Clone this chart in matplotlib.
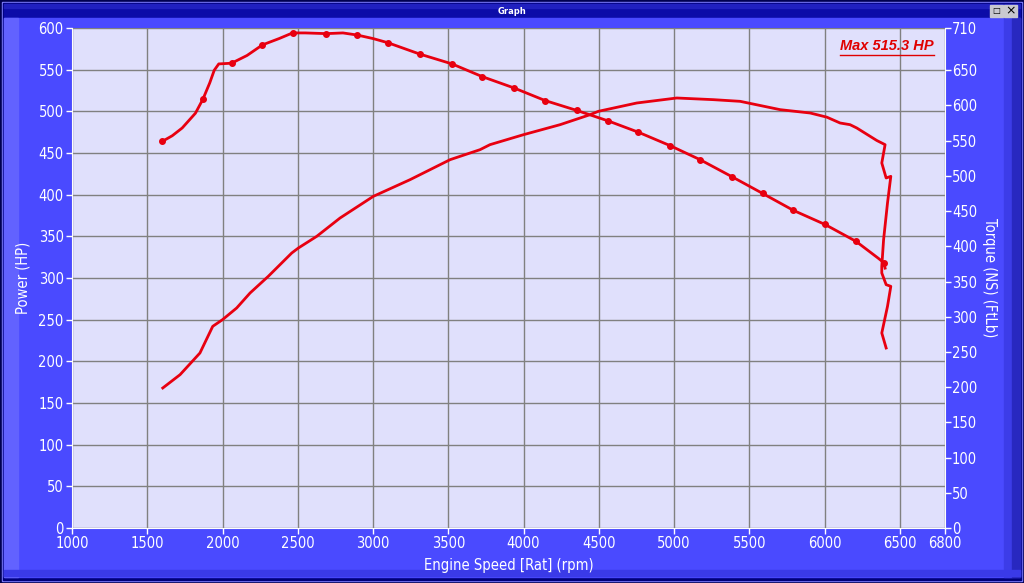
import matplotlib
matplotlib.use("Agg")
import matplotlib.pyplot as plt
from matplotlib.patches import Rectangle

# engine speed (rpm) and power (HP) - rising curve, with the decel tail at the end
power_rpm = [1603, 1718, 1850, 1935, 2000, 2094, 2183, 2304, 2460, 2504, 2626, 2781,
             3002, 3246, 3512, 3711, 3777, 4000, 4243, 4442, 4497, 4752, 5018, 5262,
             5439, 5705, 5904, 6015, 6103, 6169, 6214, 6347, 6402, 6380, 6409, 6440,
             6418, 6392, 6380, 6380, 6409, 6440, 6418, 6380, 6409]
power_hp = [168, 184, 210, 242, 250, 264, 282, 302, 330, 336, 350, 372,
            398, 418, 442, 454, 460, 472, 484, 496, 500, 510, 516, 514,
            512, 502, 498, 493, 486, 484, 480, 465, 460, 438, 420, 422,
            390, 346, 314, 306, 292, 290, 266, 234, 216]

# torque (FtLb), read against the right axis
torque_rpm = [1600, 1666, 1732, 1820, 1870, 1915, 1945, 1975, 2060, 2163, 2265, 2376,
              2465, 2550, 2690, 2800, 2895, 3000, 3100, 3310, 3525, 3725, 3935,
              4143, 4353, 4563, 4763, 4973, 5173, 5383, 5589, 5793, 6003, 6209,
              6357, 6392, 6402]
torque_ftlb = [549, 557, 568, 589, 609, 632, 650, 659, 660, 671, 686, 695,
               703, 703, 702, 703, 700, 695, 689, 673, 659, 641, 625,
               607, 593, 578, 562, 543, 523, 499, 475, 451, 431, 407,
               383, 377, 369]
torque_marks = [0, 4, 8, 10, 12, 14, 16, 18, 19, 20, 21, 22, 23, 24, 25, 26, 27,
                28, 29, 30, 31, 32, 33, 35]

x_ticks = [1000, 1500, 2000, 2500, 3000, 3500, 4000, 4500, 5000, 5500, 6000, 6500, 6800]
hp_ticks = list(range(0, 601, 50))
tq_ticks = list(range(0, 651, 50)) + [710]
max_power = 515.3

W, H = 1024, 583
fig = plt.figure(figsize=(W / 100, H / 100), dpi=100)
fig.patch.set_facecolor("#000050")

def frect(x, y, w, h, color):
    # rectangle in pixel units, measured from the top left corner
    fig.patches.append(Rectangle((x / W, 1 - (y + h) / H), w / W, h / H,
                                 transform=fig.transFigure, color=color, zorder=-5))

# window frame
frect(2, 2, W - 4, H - 4, "#8080ff")
frect(3, 3, W - 6, H - 6, "#00007a")
frect(4, 4, W - 8, 14, "#0c0ca8")
frect(4, 4, W - 8, 4, "#2020c0")
frect(4, 18, W - 8, H - 24, "#4a4aff")
frect(4, 18, 14, H - 24, "#6262ff")
frect(1004, 18, 8, H - 24, "#3c3ce8")
frect(1012, 18, 8, H - 24, "#2828c0")
frect(4, 570, W - 8, 6, "#3a3ae8")
frect(990, 5, 13, 12, "#c8c8d0")
frect(1004, 5, 13, 12, "#c8c8d0")
fig.text(0.5, 1 - 11 / H, "Graph", color="white", fontsize=6, fontweight="bold",
         ha="center", va="center")
fig.text(996.5 / W, 1 - 11 / H, "\u25a1", color="black", fontsize=6, ha="center", va="center")
fig.text(1010.5 / W, 1 - 11 / H, "\u00d7", color="black", fontsize=9, ha="center", va="center")

ax = fig.add_axes([72 / W, 55 / H, 873 / W, 500 / H])
ax.set_facecolor("#e0e0fc")
ax.set_xlim(1000, 6800)
ax.set_ylim(0, 600)
ax.set_xticks(x_ticks)
ax.set_yticks(hp_ticks)
ax.grid(True, color="#808080", lw=1)
ax.set_axisbelow(True)
for s in ax.spines.values():
    s.set_visible(False)
ax.spines["bottom"].set_visible(True)
ax.spines["bottom"].set_color("white")
ax.spines["left"].set_visible(True)
ax.spines["left"].set_color("white")

lab_font = ["DejaVu Sans"]
fs = 10.5
ax.tick_params(colors="white", labelsize=fs, length=4, width=1, pad=2)
for t in ax.get_xticklabels() + ax.get_yticklabels():
    t.set_family(lab_font)
    t.set_stretch("condensed")
ax.set_xlabel("Engine Speed [Rat] (rpm)", color="white", fontsize=fs, family=lab_font,
              fontstretch="condensed", labelpad=5)
ax.set_ylabel("Power (HP)", color="white", fontsize=fs, family=lab_font,
              fontstretch="condensed", labelpad=6)

ax2 = ax.twinx()
ax2.set_ylim(0, 710)
ax2.set_yticks(tq_ticks)
for s in ax2.spines.values():
    s.set_visible(False)
ax2.spines["right"].set_visible(True)
ax2.spines["right"].set_color("white")
ax2.tick_params(colors="white", labelsize=fs, length=4, width=1, pad=1)
for t in ax2.get_yticklabels():
    t.set_family(lab_font)
    t.set_stretch("condensed")
ax2.set_ylabel("Torque (NS) (FtLb)", color="white", fontsize=fs, family=lab_font,
               fontstretch="condensed", rotation=-90, labelpad=14)

ax.plot(power_rpm, power_hp, color="#e80010", lw=2, solid_joinstyle="round", zorder=3)
ax2.plot(torque_rpm, torque_ftlb, color="#e80010", lw=2, marker="o", ms=4,
         markevery=torque_marks, solid_joinstyle="round", zorder=3)

txt = ax.text(0.987, 0.965, f"Max {max_power} HP", transform=ax.transAxes, color="#e00000",
              fontsize=10.5, fontstyle="italic", fontweight="bold", ha="right", va="center",
              family=["Liberation Sans", "DejaVu Sans"])
fig.canvas.draw()
bb = txt.get_window_extent().transformed(ax.transAxes.inverted())
ax.plot([bb.x0, bb.x1], [bb.y0 - 0.004, bb.y0 - 0.004], transform=ax.transAxes,
        color="#e00000", lw=1, clip_on=False)

fig.savefig("out.png", dpi=100, facecolor=fig.get_facecolor())
